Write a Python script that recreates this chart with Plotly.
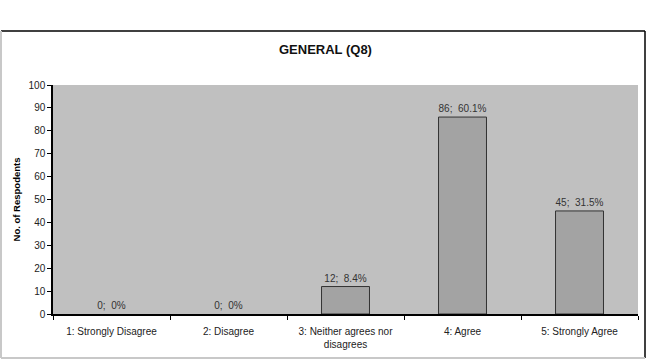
import plotly.graph_objects as go

categories = ["1: Strongly Disagree", "2: Disagree", "3: Neither agrees nor<br>disagrees", "4: Agree", "5: Strongly Agree"]
counts = [0, 0, 12, 86, 45]
percents = ["0%", "0%", "8.4%", "60.1%", "31.5%"]
labels = [f"{c};  {p}" for c, p in zip(counts, percents)]

W, H = 649, 360
L, R, T, B = 53, 11, 85, 46
pw, ph = W - L - R, H - T - B

def px_x(x):
    return (x - L) / pw

def px_y(y):
    return (H - B - y) / ph

line_widths = [0 if c == 0 else 1 for c in counts]

fig = go.Figure(go.Bar(
    x=categories, y=counts, text=labels, textposition="outside",
    textfont=dict(family="Liberation Sans, Arial", size=10, color="#333333"),
    marker=dict(color="#a3a3a3", line=dict(color="#333333", width=line_widths)),
    width=0.41, cliponaxis=False,
))

border = [
    (1, 31, 645, 31, "black"),
    (645, 31, 645, 358, "black"),
    (1, 31, 1, 358, "#c8c8c8"),
    (1, 358, 645, 358, "#c8c8c8"),
]
shapes = [dict(type="line", xref="paper", yref="paper",
               x0=px_x(a), y0=px_y(b), x1=px_x(c), y1=px_y(d),
               line=dict(color=col, width=1.5 if col == "black" else 2), layer="below")
          for a, b, c, d, col in border]

fig.update_layout(
    width=W, height=H, margin=dict(l=L, r=R, t=T, b=B),
    paper_bgcolor="white", plot_bgcolor="#c0c0c0",
    showlegend=False,
    font=dict(family="Liberation Sans, Arial", size=10, color="black"),
    xaxis=dict(type="category", showline=True, linecolor="black", linewidth=1.5,
               ticks="outside", tickson="boundaries", ticklen=4, tickcolor="black",
               showgrid=False, tickfont=dict(size=10, color="#222222"), ticklabelstandoff=7),
    yaxis=dict(range=[0, 100], dtick=10, showline=True, linecolor="black", linewidth=1.5,
               ticks="outside", ticklen=4, tickcolor="black", showgrid=False,
               zeroline=False, tickfont=dict(size=10, color="#222222"),
               title=dict(text="<b>No. of Respodents</b>", font=dict(size=9.5), standoff=6)),
    shapes=shapes,
    annotations=[dict(text="<b>GENERAL (Q8)</b>", xref="paper", yref="paper",
                      x=px_x(325), y=px_y(49), showarrow=False,
                      font=dict(size=13, color="#111111"), xanchor="center", yanchor="middle")],
)

fig.write_html("out.html")
